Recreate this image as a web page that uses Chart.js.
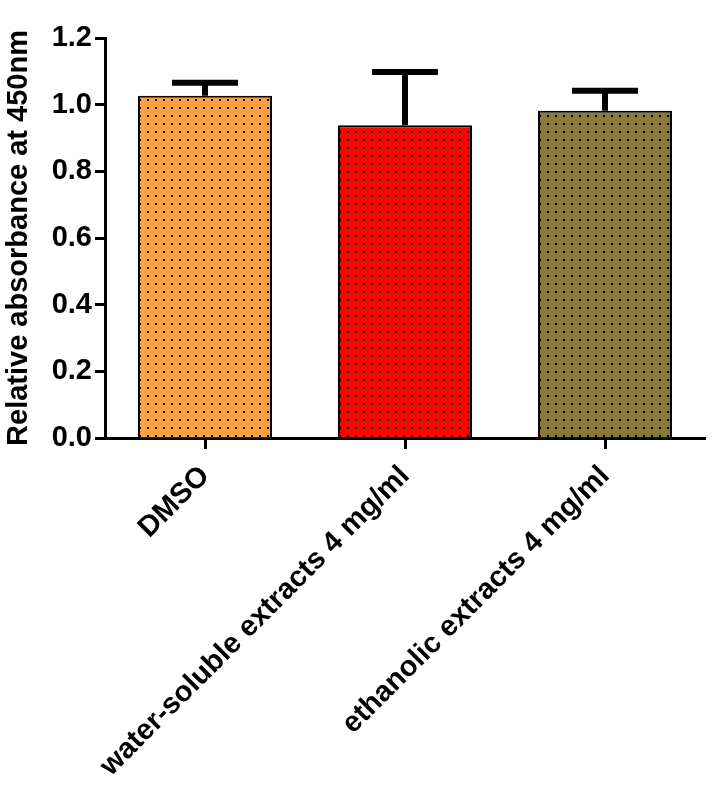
<!DOCTYPE html>
<html>
<head>
<meta charset="utf-8">
<script src="https://cdn.jsdelivr.net/npm/chart.js@4/dist/chart.umd.min.js"></script>
<style>
  html, body { margin: 0; padding: 0; background: #fff; }
  #wrap { width: 712px; height: 787px; }
</style>
</head>
<body>
<div id="wrap"><canvas id="c"></canvas></div>
<script>
const categories = ['DMSO', 'water-soluble extracts 4 mg/ml', 'ethanolic extracts 4 mg/ml'];
const means = [1.027, 0.938, 0.982];
const errors = [0.039, 0.160, 0.060];
const barColors = ['#FFA040', '#FF0000', '#8A7A3A'];
const yTicks = [0, 0.2, 0.4, 0.6, 0.8, 1.0, 1.2];

// dotted fill like the original figure
const dotted = (color) => {
    const tile = document.createElement('canvas');
    tile.width = 8;
    tile.height = 8;
    const t = tile.getContext('2d');
    t.fillStyle = color;
    t.fillRect(0, 0, 8, 8);
    t.fillStyle = '#000';
    t.fillRect(3, 3, 2, 2);
    return t.createPattern(tile, 'repeat');
};

const errorBars = {
    id: 'errorBars',
    afterDatasetsDraw(chart) {
        const ctx = chart.ctx;
        const meta = chart.getDatasetMeta(0);
        const y = chart.scales.y;
        ctx.save();
        ctx.strokeStyle = '#000';
        ctx.lineWidth = 6;
        meta.data.forEach((bar, i) => {
            const top = y.getPixelForValue(means[i] + errors[i]);
            ctx.beginPath();
            ctx.moveTo(bar.x, bar.y);
            ctx.lineTo(bar.x, top);
            ctx.moveTo(bar.x - 33, top);
            ctx.lineTo(bar.x + 33, top);
            ctx.stroke();
        });
        ctx.restore();
    }
};

const font = { family: 'Liberation Sans, Arial, sans-serif', weight: 'bold', size: 29 };

new Chart(document.getElementById('c'), {
    type: 'bar',
    data: {
        labels: categories,
        datasets: [{
            data: means,
            backgroundColor: barColors.map(dotted),
            borderColor: '#000',
            borderWidth: 2,
            barPercentage: 0.67,
            categoryPercentage: 1
        }]
    },
    options: {
        responsive: true,
        maintainAspectRatio: false,
        animation: false,
        layout: { padding: { top: 38, left: 0, right: 7, bottom: 0 } },
        plugins: { legend: { display: false }, tooltip: { enabled: false } },
        scales: {
            x: {
                offset: true,
                grid: { offset: false, drawOnChartArea: false, tickLength: 11, tickWidth: 3, tickColor: '#000' },
                border: { display: true, width: 3, color: '#000' },
                ticks: { autoSkip: false, minRotation: 45, maxRotation: 45, color: '#000', font, padding: 10 },
                afterFit(scale) { scale.height = 349; }
            },
            y: {
                min: 0,
                max: 1.2,
                afterBuildTicks(scale) { scale.ticks = yTicks.map(v => ({ value: v })); },
                grid: { drawOnChartArea: false, tickLength: 10, tickWidth: 3, tickColor: '#000' },
                border: { display: true, width: 3, color: '#000' },
                ticks: { color: '#000', font, padding: 3, callback: v => v.toFixed(1) },
                title: {
                    display: true,
                    text: 'Relative absorbance at 450nm',
                    color: '#000',
                    font: { family: 'Liberation Sans, Arial, sans-serif', weight: 'bold', size: 29 },
                    padding: { top: 2, bottom: 0 }
                },
                afterFit(scale) { scale.width = 105; }
            }
        }
    },
    plugins: [errorBars]
});
</script>
</body>
</html>
